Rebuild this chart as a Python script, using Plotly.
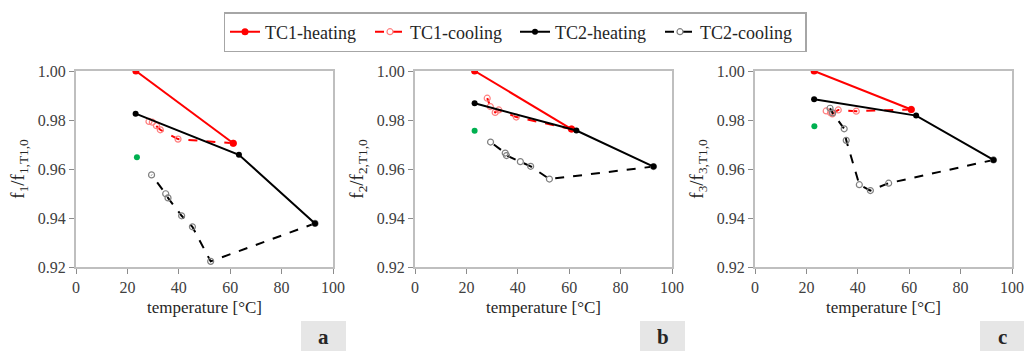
import plotly.graph_objects as go

# ---------------- data ----------------
# panel a
a_tc1h_x = [23.3, 61.2]
a_tc1h_y = [1.000, 0.9705]
a_tc1c_x = [61.2, 39.7, 32.8, 31.3, 29.7, 28.4]
a_tc1c_y = [0.9705, 0.9722, 0.9760, 0.9777, 0.9791, 0.9794]
a_tc2h_x = [23.2, 63.4, 93.0]
a_tc2h_y = [0.9826, 0.9658, 0.9378]
a_tc2c_x = [93.0, 52.4, 45.3, 41.1, 35.8, 34.9, 29.4]
a_tc2c_y = [0.9378, 0.9223, 0.9364, 0.9409, 0.9482, 0.9499, 0.9576]
a_ref_x = [23.7]
a_ref_y = [0.9648]

# panel b
b_tc1h_x = [23.2, 60.9]
b_tc1h_y = [1.000, 0.9763]
b_tc1c_x = [60.9, 39.4, 32.6, 31.2, 29.3, 28.1]
b_tc1c_y = [0.9763, 0.9812, 0.9841, 0.9831, 0.9855, 0.9889]
b_tc2h_x = [23.2, 62.8, 92.8]
b_tc2h_y = [0.9868, 0.9757, 0.9610]
b_tc2c_x = [92.8, 52.3, 45.0, 41.0, 35.6, 35.1, 29.4]
b_tc2c_y = [0.9610, 0.9559, 0.9611, 0.9630, 0.9655, 0.9665, 0.9710]
b_ref_x = [23.2]
b_ref_y = [0.9756]

# panel c
c_tc1h_x = [23.0, 60.8]
c_tc1h_y = [1.000, 0.9843]
c_tc1c_x = [60.8, 39.4, 32.4, 30.1, 29.4, 27.7]
c_tc1c_y = [0.9843, 0.9836, 0.9841, 0.9825, 0.9830, 0.9837]
c_tc2h_x = [23.0, 62.7, 92.8]
c_tc2h_y = [0.9885, 0.9818, 0.9637]
c_tc2c_x = [92.8, 52.0, 44.9, 40.6, 35.5, 34.7, 30.2, 29.2]
c_tc2c_y = [0.9637, 0.9542, 0.9512, 0.9536, 0.9717, 0.9764, 0.9829, 0.9848]
c_ref_x = [23.1]
c_ref_y = [0.9775]

x_ticks = [0, 20, 40, 60, 80, 100]
y_ticks = [0.92, 0.94, 0.96, 0.98, 1.00]
y_titles = ["f<sub>1</sub>/f<sub>1,T1,0</sub>",
            "f<sub>2</sub>/f<sub>2,T1,0</sub>",
            "f<sub>3</sub>/f<sub>3,T1,0</sub>"]
panel_letters = ["a", "b", "c"]
x_title = "temperature [°C]"

FONT = "'Times New Roman', 'Liberation Serif', Times, serif"
W, H = 1024, 351

panels = [
    (a_tc1h_x, a_tc1h_y, a_tc1c_x, a_tc1c_y, a_tc2h_x, a_tc2h_y, a_tc2c_x, a_tc2c_y, a_ref_x, a_ref_y),
    (b_tc1h_x, b_tc1h_y, b_tc1c_x, b_tc1c_y, b_tc2h_x, b_tc2h_y, b_tc2c_x, b_tc2c_y, b_ref_x, b_ref_y),
    (c_tc1h_x, c_tc1h_y, c_tc1c_x, c_tc1c_y, c_tc2h_x, c_tc2h_y, c_tc2c_x, c_tc2c_y, c_ref_x, c_ref_y),
]

# pixel layout of plot areas
px_left = [76, 415, 755]
px_width = 257
px_top, px_bottom = 71, 267

fig = go.Figure()

for i, p in enumerate(panels):
    xa = "x" if i == 0 else f"x{i+1}"
    ya = "y" if i == 0 else f"y{i+1}"
    show = i == 0
    (h1x, h1y, c1x, c1y, h2x, h2y, c2x, c2y, rx, ry) = p
    fig.add_trace(go.Scatter(x=c1x, y=c1y, mode="lines+markers", name="TC1-cooling",
                             legendrank=2, showlegend=show, xaxis=xa, yaxis=ya,
                             line=dict(color="#ff0000", width=2, dash="dash"),
                             marker=dict(symbol="circle-open", size=6, color="#ff8080",
                                         line=dict(width=1.2))))
    fig.add_trace(go.Scatter(x=h1x, y=h1y, mode="lines+markers", name="TC1-heating",
                             legendrank=1, showlegend=show, xaxis=xa, yaxis=ya,
                             line=dict(color="#ff0000", width=2),
                             marker=dict(symbol="circle", size=7, color="#ff0000")))
    fig.add_trace(go.Scatter(x=c2x, y=c2y, mode="lines+markers", name="TC2-cooling",
                             legendrank=4, showlegend=show, xaxis=xa, yaxis=ya,
                             line=dict(color="#000000", width=2, dash="dash"),
                             marker=dict(symbol="circle-open", size=6, color="#808080",
                                         line=dict(width=1.2))))
    fig.add_trace(go.Scatter(x=h2x, y=h2y, mode="lines+markers", name="TC2-heating",
                             legendrank=3, showlegend=show, xaxis=xa, yaxis=ya,
                             line=dict(color="#000000", width=2),
                             marker=dict(symbol="circle", size=6, color="#000000")))
    fig.add_trace(go.Scatter(x=rx, y=ry, mode="markers", name="reference",
                             showlegend=False, xaxis=xa, yaxis=ya,
                             marker=dict(symbol="circle", size=6, color="#00b050")))

    xd = [px_left[i] / W, (px_left[i] + px_width) / W]
    yd = [1 - px_bottom / H, 1 - px_top / H]
    axis_common = dict(showline=True, linecolor="#bfbfbf", linewidth=2, mirror=True,
                       ticks="outside", ticklen=5, tickcolor="#8c8c8c", tickwidth=1,
                       showgrid=False, zeroline=False, automargin=False,
                       tickfont=dict(family=FONT, size=16, color="#404040"))
    xkey = "xaxis" if i == 0 else f"xaxis{i+1}"
    ykey = "yaxis" if i == 0 else f"yaxis{i+1}"
    fig.update_layout({
        xkey: dict(domain=xd, range=[0, 100], tickvals=x_ticks, anchor=ya,
                   title=dict(text=x_title, standoff=6,
                              font=dict(family=FONT, size=17, color="#262626")),
                   **axis_common),
        ykey: dict(domain=yd, range=[0.92, 1.00], tickvals=y_ticks, tickformat=".2f",
                   anchor=xa,
                   title=dict(text=y_titles[i], standoff=8,
                              font=dict(family=FONT, size=19, color="#262626")),
                   **axis_common),
    })

    # panel letter box
    bx0 = (px_left[i] + 225) / W
    bx1 = min((px_left[i] + 270) / W, 1.0)
    fig.add_shape(type="rect", xref="paper", yref="paper",
                  x0=bx0, x1=bx1, y0=0, y1=1 - 321 / H,
                  fillcolor="#e6e6e6", line=dict(width=0), layer="below")
    fig.add_annotation(x=(bx0 + bx1) / 2, y=1 - 337 / H, xref="paper", yref="paper",
                       text=f"<b>{panel_letters[i]}</b>", showarrow=False,
                       font=dict(family=FONT, size=21, color="#262626"),
                       xanchor="center", yanchor="middle")

fig.update_layout(
    width=W, height=H,
    margin=dict(l=0, r=0, t=0, b=0),
    paper_bgcolor="white", plot_bgcolor="white",
    font=dict(family=FONT, color="#262626"),
    legend=dict(orientation="h", x=515 / W, xanchor="center", y=1 - 12 / H, yanchor="top",
                bordercolor="#a6a6a6", borderwidth=1.5, bgcolor="white",
                font=dict(family=FONT, size=18, color="#262626"),
                traceorder="normal", entrywidth=100, entrywidthmode="pixels",
                itemwidth=30),
    showlegend=True,
)

fig.write_html("out.html", config={"displayModeBar": False},
               post_script="document.body.style.margin='0';document.body.style.padding='0';")
